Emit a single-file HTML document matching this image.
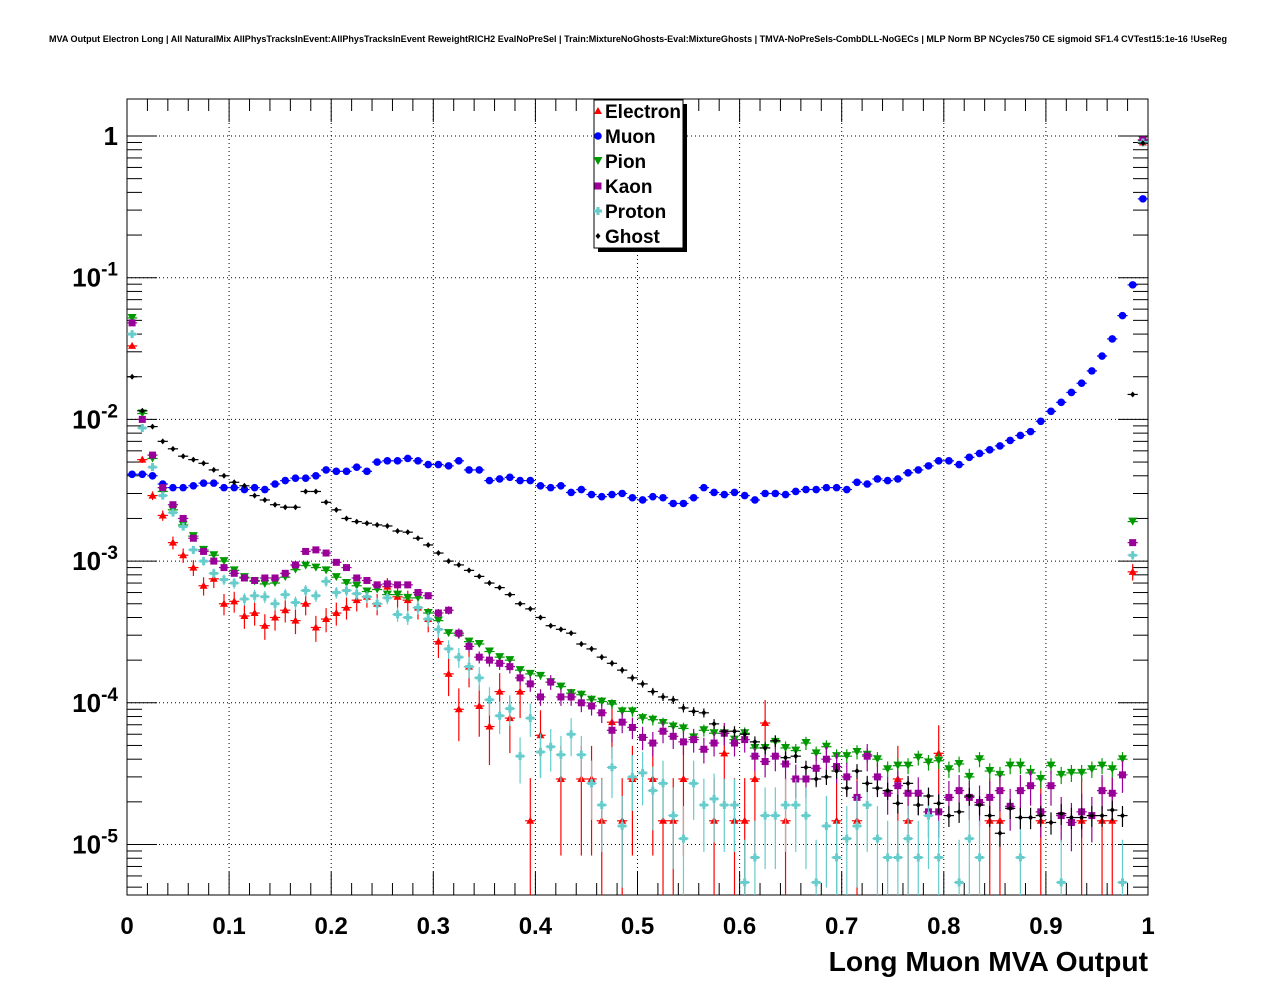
<!DOCTYPE html>
<html><head><meta charset="utf-8"><style>
html,body{margin:0;padding:0;background:#fff;}
svg{display:block;font-family:"Liberation Sans",sans-serif;}
</style></head><body>
<svg id="chart" width="1276" height="996" viewBox="0 0 1276 996" xmlns="http://www.w3.org/2000/svg">
<rect x="0" y="0" width="1276" height="996" fill="#fff"/>
<text x="638" y="42" text-anchor="middle" font-size="9.05" font-weight="bold">MVA Output Electron Long | All NaturalMix AllPhysTracksInEvent:AllPhysTracksInEvent ReweightRICH2 EvalNoPreSel | Train:MixtureNoGhosts-Eval:MixtureGhosts | TMVA-NoPreSels-CombDLL-NoGECs | MLP Norm BP NCycles750 CE sigmoid SF1.4 CVTest15:1e-16 !UseReg</text>
<g id="grid"></g>
<g id="axes"></g>
<g id="marks"></g>
<text x="1148" y="971" text-anchor="end" font-size="28.2" font-weight="bold">Long Muon MVA Output</text>
<g id="legend"></g>
</svg>
<script>
const seriesNames = ["Electron","Muon","Pion","Kaon","Proton","Ghost"];
const xTickLabels = ["0","0.1","0.2","0.3","0.4","0.5","0.6","0.7","0.8","0.9","1"];
const yTickExps = [0,-1,-2,-3,-4,-5];
const electron = [3.3e-2,5.2e-3,2.9e-3,2.1e-3,1.35e-3,1.1e-3,9e-4,6.7e-4,7.5e-4,5e-4,
5.2e-4,4.1e-4,4.3e-4,3.5e-4,4e-4,4.5e-4,3.8e-4,5e-4,3.4e-4,3.9e-4,
4.3e-4,4.7e-4,5.3e-4,5.6e-4,5e-4,6.6e-4,5.6e-4,5.3e-4,4.7e-4,3.9e-4,
2.7e-4,1.6e-4,9e-5,1.8e-4,9.5e-5,6.8e-5,1.2e-4,7.8e-5,1.2e-4,1.47e-5,
5.9e-5,0,2.9e-5,0,2.9e-5,2.9e-5,1.47e-5,7.3e-5,1.47e-5,2.9e-5,
0,2.9e-5,1.47e-5,1.47e-5,2.9e-5,0,0,1.47e-5,4.4e-5,1.47e-5,
1.47e-5,2.9e-5,7.2e-5,0,1.47e-5,0,0,0,0,1.47e-5,
0,1.47e-5,0,0,0,2.9e-5,1.47e-5,0,0,4.4e-5,
0,0,0,0,1.47e-5,1.47e-5,0,0,0,1.47e-5,
0,0,0,1.47e-5,0,1.47e-5,1.47e-5,0,8.4e-4,0.9];
const muon = [4.1e-3,4.1e-3,4.0e-3,3.5e-3,3.3e-3,3.3e-3,3.4e-3,3.55e-3,3.55e-3,3.3e-3,
3.3e-3,3.2e-3,3.3e-3,3.2e-3,3.5e-3,3.7e-3,3.85e-3,3.85e-3,4.0e-3,4.4e-3,
4.3e-3,4.3e-3,4.6e-3,4.3e-3,5.0e-3,5.1e-3,5.1e-3,5.3e-3,5.1e-3,4.8e-3,
4.8e-3,4.7e-3,5.1e-3,4.4e-3,4.4e-3,3.7e-3,3.8e-3,3.9e-3,3.7e-3,3.7e-3,
3.4e-3,3.3e-3,3.4e-3,3.05e-3,3.2e-3,2.95e-3,2.85e-3,2.95e-3,3.0e-3,2.8e-3,
2.7e-3,2.85e-3,2.8e-3,2.55e-3,2.55e-3,2.8e-3,3.3e-3,3.05e-3,2.95e-3,3.05e-3,
2.9e-3,2.7e-3,3.0e-3,3.0e-3,2.95e-3,3.1e-3,3.2e-3,3.2e-3,3.3e-3,3.3e-3,
3.2e-3,3.6e-3,3.5e-3,3.8e-3,3.7e-3,3.8e-3,4.2e-3,4.4e-3,4.7e-3,5.1e-3,
5.1e-3,4.8e-3,5.4e-3,5.75e-3,6.1e-3,6.5e-3,7.1e-3,7.7e-3,8.2e-3,9.7e-3,
1.14e-2,1.32e-2,1.55e-2,1.8e-2,2.2e-2,2.8e-2,3.7e-2,5.4e-2,8.9e-2,0.36];
const pion = [5.2e-2,1.1e-2,5.3e-3,3.1e-3,2.3e-3,1.8e-3,1.5e-3,1.2e-3,1.1e-3,1e-3,
8.6e-4,7.7e-4,7.2e-4,6.9e-4,7e-4,7.7e-4,8.7e-4,9.3e-4,9e-4,8.6e-4,
7.7e-4,7e-4,6.7e-4,6.1e-4,6.3e-4,5.8e-4,5.8e-4,5.5e-4,5.5e-4,4.3e-4,
3.8e-4,3.1e-4,3e-4,2.7e-4,2.6e-4,2.3e-4,2.1e-4,2e-4,1.7e-4,1.6e-4,
1.55e-4,1.4e-4,1.3e-4,1.17e-4,1.14e-4,1.05e-4,1.02e-4,9.8e-5,8.7e-5,8.7e-5,
7.8e-5,7.6e-5,7.2e-5,6.8e-5,6.6e-5,5.7e-5,6.4e-5,6.1e-5,6.1e-5,5.5e-5,
6.1e-5,4.8e-5,4.8e-5,5.3e-5,4.8e-5,4.6e-5,5.2e-5,4.4e-5,4.9e-5,4.2e-5,
4.2e-5,4.5e-5,4.3e-5,4.0e-5,3.4e-5,3.6e-5,3.6e-5,4.1e-5,3.8e-5,3.9e-5,
3.4e-5,3.7e-5,3.0e-5,4.0e-5,3.3e-5,3.1e-5,3.6e-5,3.6e-5,3.2e-5,2.9e-5,
3.6e-5,3.1e-5,3.2e-5,3.2e-5,3.4e-5,3.6e-5,3.4e-5,4.0e-5,1.9e-3,0.93];
const kaon = [4.8e-2,1.0e-2,5.6e-3,3.3e-3,2.5e-3,2.0e-3,1.45e-3,1.17e-3,1.0e-3,9e-4,
8.2e-4,7.6e-4,7.3e-4,7.6e-4,7.6e-4,8.2e-4,9.4e-4,1.17e-3,1.2e-3,1.14e-3,
9.8e-4,9e-4,7.6e-4,7.3e-4,6.8e-4,6.9e-4,6.8e-4,6.8e-4,6e-4,5.7e-4,
4.3e-4,4.5e-4,3.1e-4,2.5e-4,2.1e-4,2e-4,1.9e-4,1.8e-4,1.5e-4,1.36e-4,
1.1e-4,1.4e-4,1.1e-4,1.1e-4,1e-4,9.5e-5,8.5e-5,6.4e-5,7.3e-5,6.7e-5,
5.7e-5,5.2e-5,6.3e-5,5.8e-5,5.3e-5,5.5e-5,4.7e-5,5.2e-5,6.1e-5,5.2e-5,
5.5e-5,4.2e-5,3.85e-5,4.2e-5,3.7e-5,2.9e-5,2.9e-5,3.45e-5,4e-5,3.55e-5,
3.0e-5,2.15e-5,4.2e-5,3.0e-5,2.3e-5,2.6e-5,2.3e-5,2.3e-5,1.7e-5,1.7e-5,
2.15e-5,2.4e-5,2.15e-5,1.98e-5,2.15e-5,2.4e-5,1.86e-5,2.4e-5,2.6e-5,1.7e-5,
2.6e-5,1.6e-5,1.43e-5,1.7e-5,1.6e-5,2.4e-5,2.3e-5,3.1e-5,1.35e-3,0.94];
const proton = [4e-2,8.7e-3,4.6e-3,2.9e-3,2.2e-3,1.75e-3,1.2e-3,1e-3,8.2e-4,7.4e-4,
7e-4,5.4e-4,5.7e-4,5.6e-4,5e-4,5.8e-4,5.1e-4,6.2e-4,5.7e-4,7.2e-4,
6e-4,6.2e-4,5.9e-4,5.6e-4,5e-4,5.5e-4,4.2e-4,4e-4,4.7e-4,3.9e-4,
3.3e-4,2.4e-4,2.1e-4,1.8e-4,1.5e-4,1.05e-4,8.1e-5,9.1e-5,4.2e-5,7.8e-5,
4.5e-5,4.9e-5,4.3e-5,6e-5,4.3e-5,2.7e-5,1.9e-5,3.5e-5,1.35e-5,3e-5,
3.2e-5,2.4e-5,2.7e-5,1.6e-5,1.1e-5,2.7e-5,1.9e-5,2.1e-5,1.9e-5,1.9e-5,
5.4e-6,8.1e-6,1.6e-5,1.6e-5,1.9e-5,1.9e-5,1.6e-5,5.4e-6,1.35e-5,8.1e-6,
1.1e-5,1.35e-5,1.9e-5,1.1e-5,8.1e-6,8.1e-6,1.1e-5,8.1e-6,1.6e-5,8.1e-6,
0,5.4e-6,1.1e-5,8.1e-6,0,0,0,8.1e-6,0,0,
0,5.4e-6,0,0,0,0,0,5.4e-6,1.1e-3,0.9];
const ghost = [2e-2,1.15e-2,8.9e-3,7e-3,6.2e-3,5.5e-3,5.2e-3,4.9e-3,4.4e-3,4e-3,
3.6e-3,3.4e-3,2.9e-3,2.7e-3,2.5e-3,2.4e-3,2.4e-3,3.1e-3,3.1e-3,2.6e-3,
2.3e-3,2e-3,1.9e-3,1.85e-3,1.8e-3,1.77e-3,1.63e-3,1.6e-3,1.45e-3,1.3e-3,
1.14e-3,1e-3,9.4e-4,8.6e-4,7.8e-4,7e-4,6.5e-4,5.8e-4,5e-4,4.6e-4,
4e-4,3.5e-4,3.3e-4,3.1e-4,2.6e-4,2.4e-4,2.1e-4,1.9e-4,1.7e-4,1.5e-4,
1.36e-4,1.2e-4,1.1e-4,1.05e-4,9.2e-5,8.7e-5,8.5e-5,7.1e-5,6.3e-5,6.3e-5,
6e-5,5.3e-5,4.8e-5,5.4e-5,4.1e-5,4.2e-5,3.5e-5,2.9e-5,3e-5,3.3e-5,
2.5e-5,3.3e-5,2.7e-5,2.5e-5,2.4e-5,1.95e-5,2.7e-5,1.9e-5,2.2e-5,1.95e-5,
1.6e-5,1.7e-5,2.2e-5,1.9e-5,1.6e-5,1.2e-5,1.8e-5,1.55e-5,1.55e-5,1.6e-5,
1.43e-5,1.65e-5,1.55e-5,1.55e-5,1.6e-5,1.6e-5,1.75e-5,1.6e-5,1.5e-2,0.89];
const countUnits = [1.47e-5,1e-7,6e-7,2e-6,5.4e-6,4.6e-7];

const NS="http://www.w3.org/2000/svg";
const X0=127,X1=1148,Y0=99,Y1=895;
const sx = v => X0 + (X1-X0)*v;
const sy = v => 136 - 141.7*Math.log10(v);
function mk(tag, attrs, parent){const e=document.createElementNS(NS,tag);for(const k in attrs)e.setAttribute(k,attrs[k]);parent.appendChild(e);return e;}
const grid=document.getElementById('grid'), axes=document.getElementById('axes'), marks=document.getElementById('marks'), legend=document.getElementById('legend');

for(let i=1;i<xTickLabels.length-1;i++){
  const x=sx(i/10);
  const l=mk('line',{x1:x,x2:x,y1:Y0,y2:Y1,stroke:'#000','stroke-width':1,'stroke-dasharray':'1,3'},grid);
  
  
}
for(const e of yTickExps){
  const y=sy(Math.pow(10,e));
  const l=mk('line',{x1:X0,x2:X1,y1:y,y2:y,stroke:'#000','stroke-width':1,'stroke-dasharray':'1,3'},grid);
  
  
}
const fr=mk('rect',{x:X0,y:Y0,width:X1-X0,height:Y1-Y0,fill:'none',stroke:'#000','stroke-width':1},axes);


for(let i=0;i<=50;i++){
  const x=sx(i/50);
  const len=(i%5===0)?23:12;
  mk('line',{x1:x,x2:x,y1:Y1,y2:Y1-len,stroke:'#000','stroke-width':1},axes);
  mk('line',{x1:x,x2:x,y1:Y0,y2:Y0+len,stroke:'#000','stroke-width':1},axes);
}
xTickLabels.forEach((t,i)=>{
  const tx=mk('text',{x:sx(i/10),y:934,'text-anchor':'middle','font-size':24,'font-weight':'bold'},axes);
  tx.textContent=t;
  
  
});
for(let e=-6;e<=0;e++){
  for(let m=1;m<=9;m++){
    const v=m*Math.pow(10,e);
    const y=sy(v);
    if(y<Y0||y>Y1) continue;
    const len=(m===1)?30:15;
    mk('line',{x1:X0,x2:X0+len,y1:y,y2:y,stroke:'#000','stroke-width':1},axes);
    mk('line',{x1:X1,x2:X1-len,y1:y,y2:y,stroke:'#000','stroke-width':1},axes);
  }
}
yTickExps.forEach(e=>{
  const y=sy(Math.pow(10,e))+9;
  const tx=mk('text',{x:118,y:y,'text-anchor':'end','font-size':26,'font-weight':'bold'},axes);
  
  
  if(e===0){tx.textContent='1';}
  else{
    const a=document.createElementNS(NS,'tspan');a.textContent='10';tx.appendChild(a);
    const b=document.createElementNS(NS,'tspan');b.setAttribute('dy','-11');b.setAttribute('font-size','19');b.textContent=String(e);tx.appendChild(b);
  }
});

const colors=['#ff0000','#0000ff','#009900','#990099','#66cccc','#000000'];
const allSeries=[electron,muon,pion,kaon,proton,ghost];
function marker(kind,x,y,c,g){
  let el;
  if(kind===0) el=mk('polygon',{points:`${x},${y-4} ${x-4},${y+3} ${x+4},${y+3}`,fill:c},g);
  else if(kind===1) el=mk('circle',{cx:x,cy:y,r:3.8,fill:c},g);
  else if(kind===2) el=mk('polygon',{points:`${x-4.5},${y-4} ${x+4.5},${y-4} ${x},${y+4}`,fill:c},g);
  else if(kind===3) el=mk('rect',{x:x-3.5,y:y-3.5,width:7,height:7,fill:c},g);
  else if(kind===4) el=mk('path',{d:`M${x-1.5},${y-4}h3v2.5h2.5v3h-2.5v2.5h-3v-2.5h-2.5v-3h2.5z`,fill:c},g);
  else el=mk('polygon',{points:`${x},${y-3} ${x+2.5},${y} ${x},${y+3} ${x-2.5},${y}`,fill:c},g);
  return el;
}
const binW=(X1-X0)/100;
allSeries.forEach((data,s)=>{
  const g=mk('g',{},marks);
  
  
  const c=colors[s];
  data.forEach((v,i)=>{
    if(!(v>0)) return;
    const x=X0+binW*(i+0.5);
    const y=sy(v);
    if(y<Y0||y>Y1) return;
    const err=Math.sqrt(v*countUnits[s]);
    const yTop=Math.max(Y0,sy(v+err));
    const yBot=(v-err>0)?Math.min(Y1,sy(v-err)):Y1;
    mk('line',{x1:x,x2:x,y1:yTop,y2:yBot,stroke:c,'stroke-width':1.2},g);
    mk('line',{x1:x-binW/2,x2:x+binW/2,y1:y,y2:y,stroke:c,'stroke-width':1.2},g);
    const m=marker(s,x,y,c,g);
    
    
  });
});

mk('rect',{x:598,y:104,width:89,height:148,fill:'#000'},legend);
const lb=mk('rect',{x:594,y:100,width:89,height:148,fill:'#fff',stroke:'#000','stroke-width':1},legend);


seriesNames.forEach((n,s)=>{
  const y=111+25*s;
  const g=mk('g',{},legend);
  
  
  marker(s,598,y,colors[s],g);
  const t=mk('text',{x:605,y:y+7,'font-size':19,'font-weight':'bold'},g);
  t.textContent=n;
});
</script>
</body></html>
